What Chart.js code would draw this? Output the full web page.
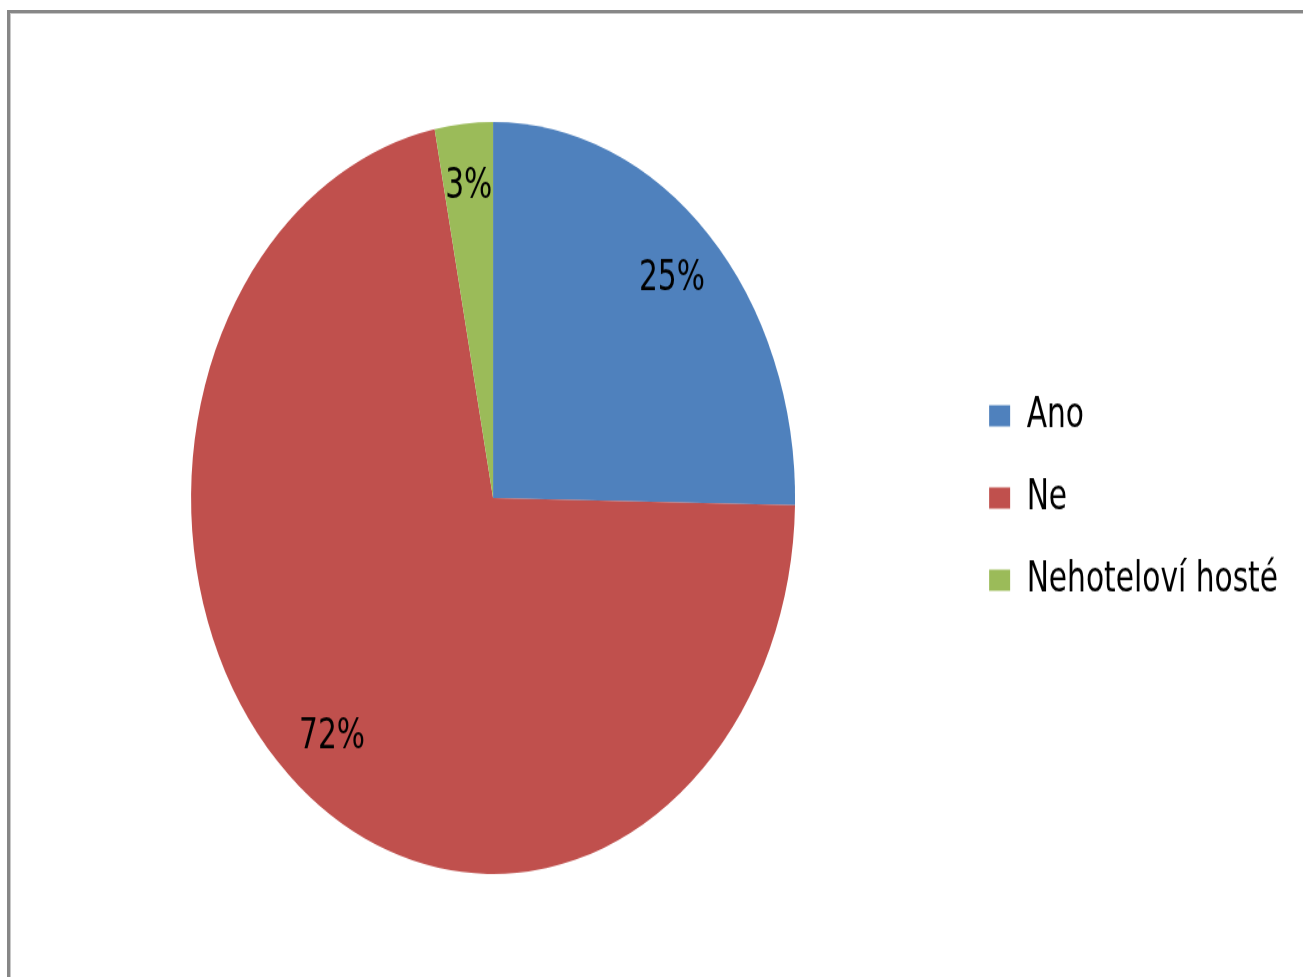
<!DOCTYPE html>
<html>
<head>
<meta charset="utf-8">
<script src="https://cdn.jsdelivr.net/npm/chart.js@4"></script>
<style>
  html, body { margin: 0; padding: 0; background: #fff; overflow: hidden; }
  body { width: 1303px; height: 977px; position: relative; }
  .frame {
    position: absolute; left: 7px; top: 10px; width: 1400px; height: 1100px;
    border-left: 3px solid #878787; border-top: 3px solid #878787;
    box-shadow: inset 1px 1px 0 #c8c8c8;
  }
  .wrap {
    position: absolute; left: 0; top: 0; width: 1303px; height: 785px;
    transform-origin: 0 0; transform: scaleY(1.245);
  }
</style>
</head>
<body>
<div class="frame"></div>
<div class="wrap"><canvas id="pieChart" width="1303" height="785"></canvas></div>
<script>
const categories = ["Ano", "Ne", "Nehotelov\u00ed host\u00e9"];
const shares = [25.3, 71.6, 3.1];
const sliceColors = ["#4F81BD", "#C0504D", "#9BBB59"];

const FONT = "'Liberation Sans Narrow', 'DejaVu Sans Condensed', 'Arial Narrow', sans-serif";

// percent labels inside each slice
const sliceLabels = {
  id: "sliceLabels",
  afterDatasetsDraw(chart) {
    const ctx = chart.ctx;
    const meta = chart.getDatasetMeta(0);
    ctx.save();
    ctx.font = "33px " + FONT;
    ctx.fillStyle = "#000";
    ctx.textAlign = "center";
    ctx.textBaseline = "middle";
    meta.data.forEach((arc, i) => {
      const p = arc.getProps(["x", "y", "startAngle", "endAngle", "outerRadius"], true);
      const mid = (p.startAngle + p.endAngle) / 2;
      const r = p.outerRadius * 0.83;
      ctx.fillText(Math.round(shares[i]) + "%", p.x + Math.cos(mid) * r, p.y + Math.sin(mid) * r);
    });
    ctx.restore();
  }
};

new Chart(document.getElementById("pieChart"), {
  type: "pie",
  data: {
    labels: categories,
    datasets: [{
      data: shares,
      backgroundColor: sliceColors,
      borderWidth: 0,
      radius: 302
    }]
  },
  options: {
    responsive: false,
    animation: false,
    layout: { padding: { left: 30, top: 15, right: 15, bottom: 0 } },
    plugins: {
      tooltip: { enabled: false },
      legend: {
        position: "right",
        labels: {
          boxWidth: 21,
          boxHeight: 17,
          padding: 33,
          color: "#000",
          font: { size: 33, family: FONT }
        }
      }
    }
  },
  plugins: [sliceLabels]
});
</script>
</body>
</html>
